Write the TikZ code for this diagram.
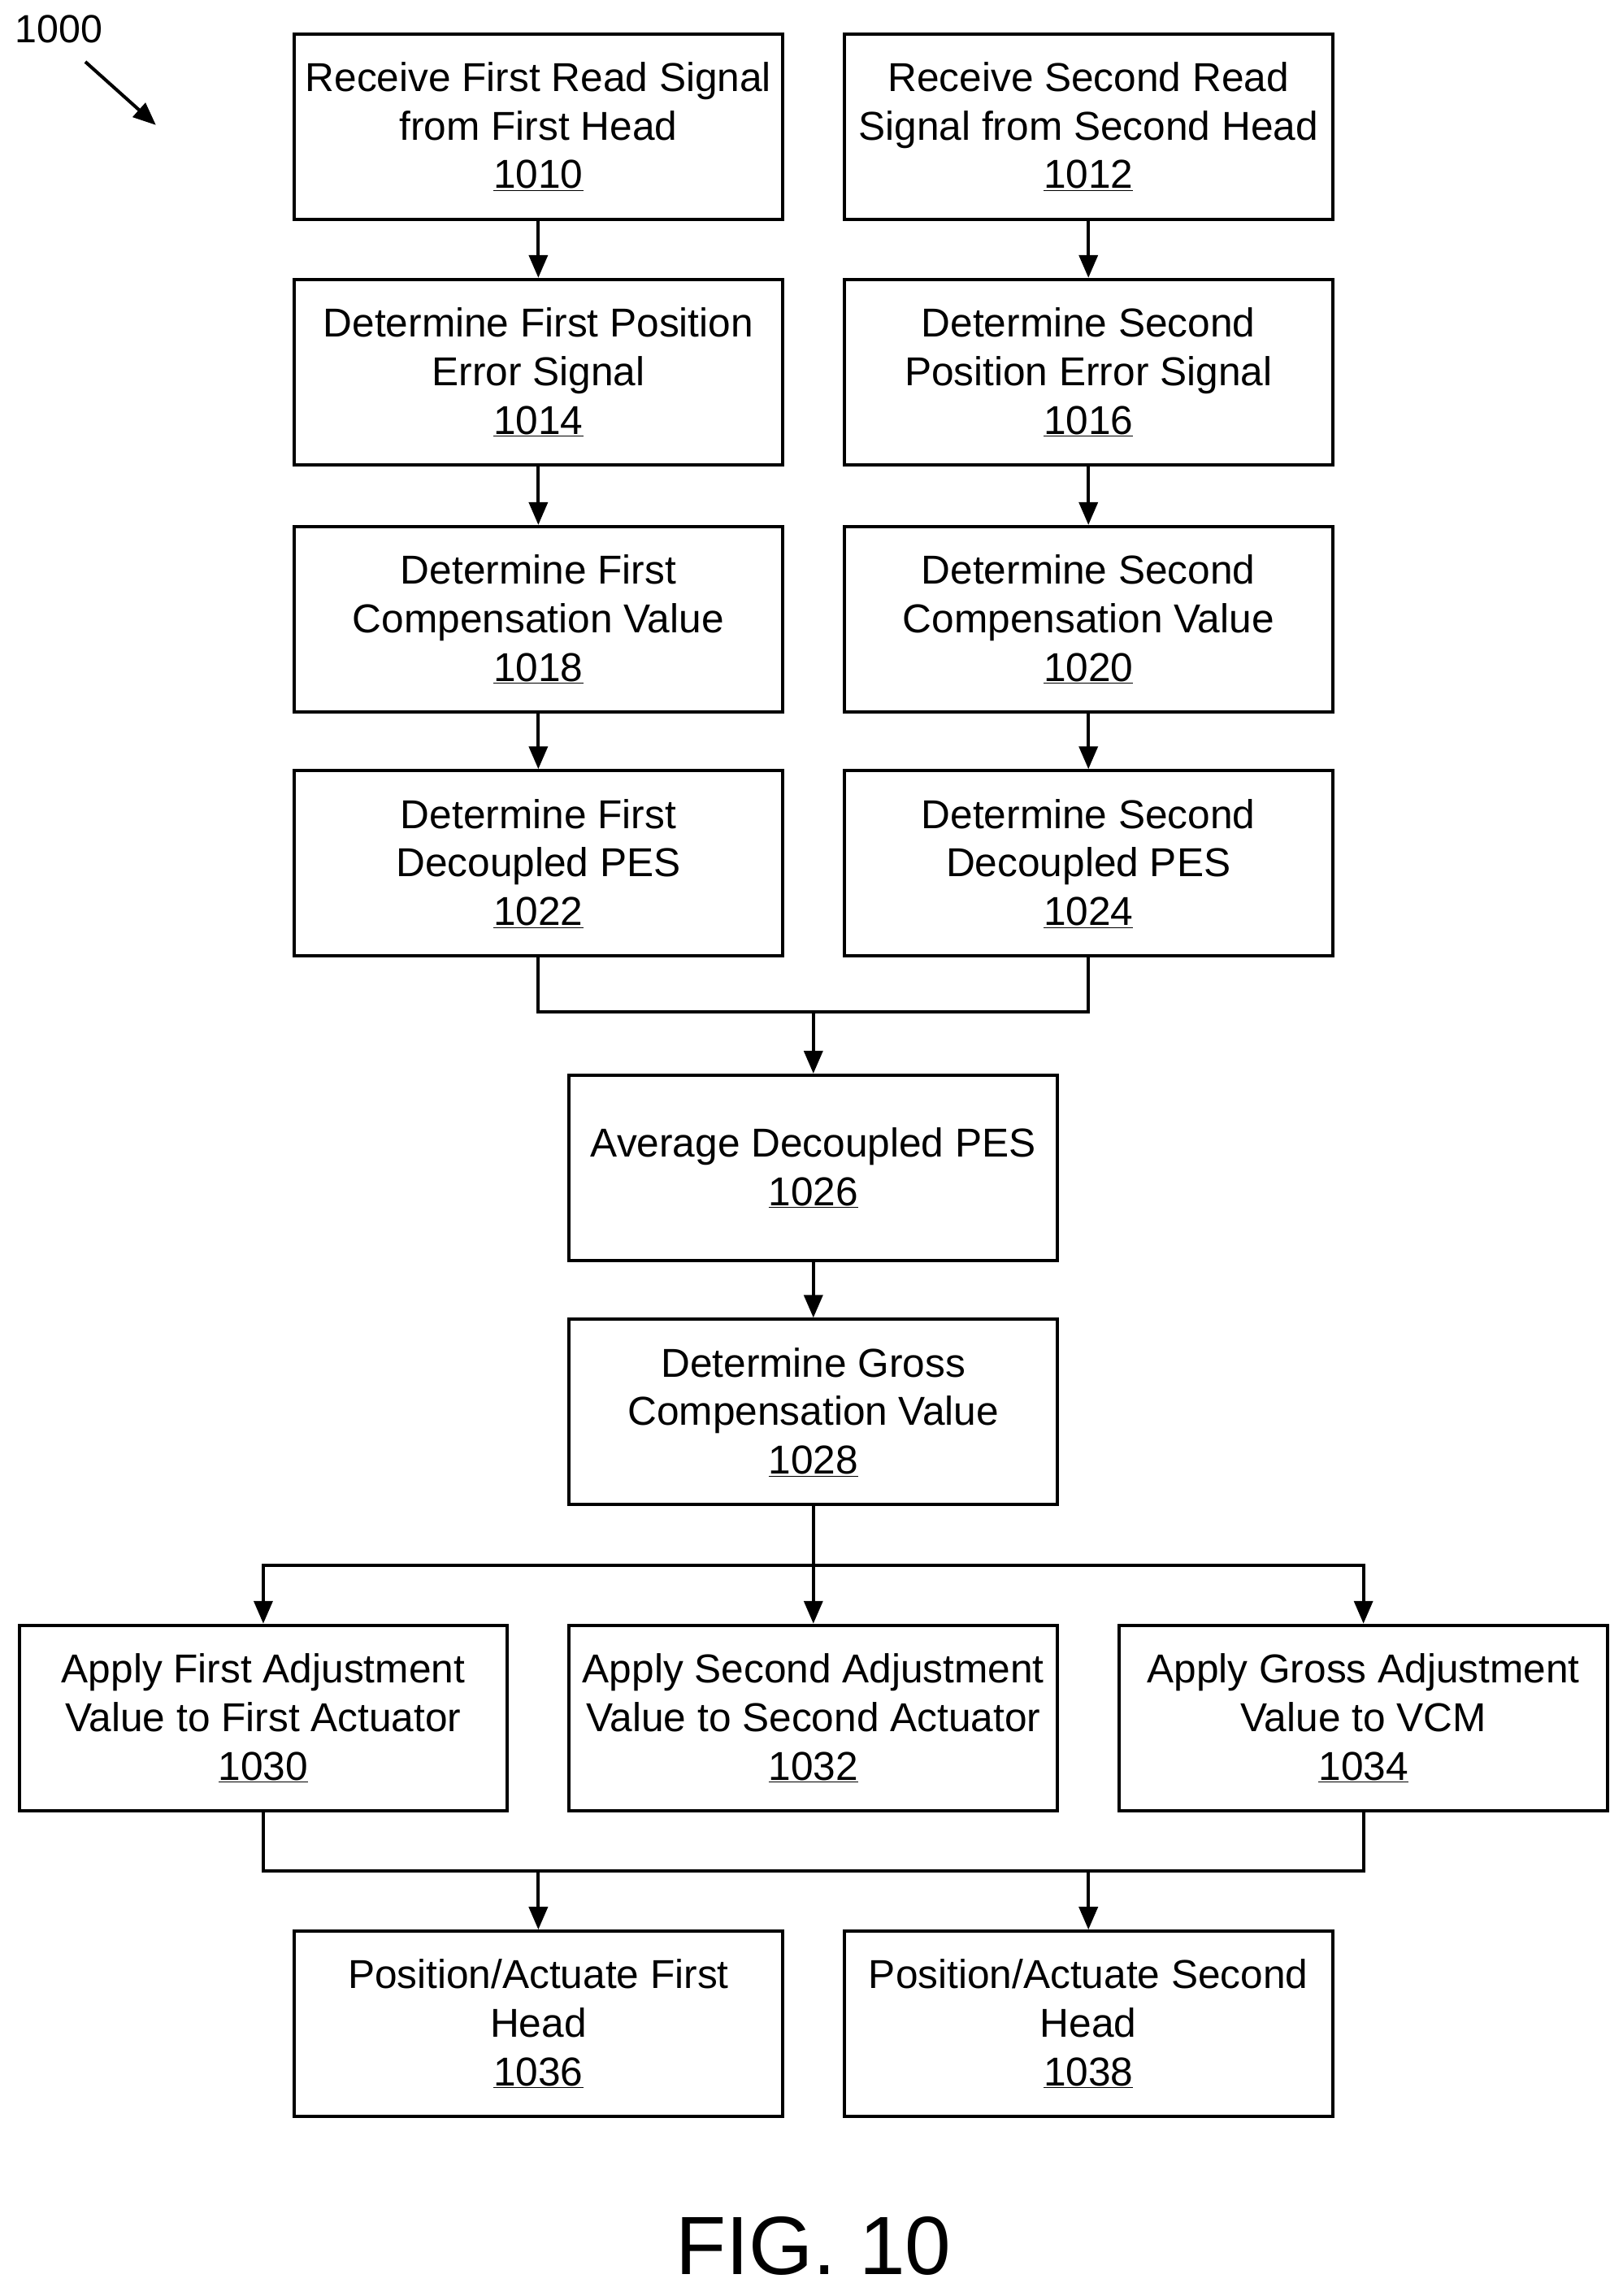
\documentclass[tikz,border=0pt]{standalone}
\usepackage{fontspec}
\setmainfont{Liberation Sans}
\usetikzlibrary{arrows.meta}
\begin{document}
\begin{tikzpicture}[x=0.05cm,y=-0.05cm,
  box/.style={draw,line width=3.2pt,minimum width=16.6cm,minimum height=6.3cm,align=center,inner sep=0pt,font=\fontsize{39}{47}\selectfont},
  arr/.style={line width=3.2pt,-{Triangle[length=22pt,width=18pt]}},
  ln/.style={line width=3.2pt}]
\useasboundingbox (0,0) rectangle (1103,1561);
\node[box] (a) at (366,86) {Receive First Read Signal\\from First Head\\\underline{1010}};
\node[box] (b) at (740,86) {Receive Second Read\\Signal from Second Head\\\underline{1012}};
\node[box] (c) at (366,253) {Determine First Position\\Error Signal\\\underline{1014}};
\node[box] (d) at (740,253) {Determine Second\\Position Error Signal\\\underline{1016}};
\node[box] (e) at (366,421) {Determine First\\Compensation Value\\\underline{1018}};
\node[box] (f) at (740,421) {Determine Second\\Compensation Value\\\underline{1020}};
\node[box] (g) at (366,587) {Determine First\\Decoupled PES\\\underline{1022}};
\node[box] (h) at (740,587) {Determine Second\\Decoupled PES\\\underline{1024}};
\node[box] (i) at (553,794) {Average Decoupled PES\\\underline{1026}};
\node[box] (j) at (553,960) {Determine Gross\\Compensation Value\\\underline{1028}};
\node[box] (k) at (179,1168) {Apply First Adjustment\\Value to First Actuator\\\underline{1030}};
\node[box] (l) at (553,1168) {Apply Second Adjustment\\Value to Second Actuator\\\underline{1032}};
\node[box] (m) at (927,1168) {Apply Gross Adjustment\\Value to VCM\\\underline{1034}};
\node[box] (n) at (366,1376) {Position/Actuate First\\Head\\\underline{1036}};
\node[box] (o) at (740,1376) {Position/Actuate Second\\Head\\\underline{1038}};
\draw[arr] (a) -- (c); \draw[arr] (c) -- (e); \draw[arr] (e) -- (g);
\draw[arr] (b) -- (d); \draw[arr] (d) -- (f); \draw[arr] (f) -- (h);
\coordinate (m1) at (553,688);
\draw[ln] (g.south) |- (m1) -| (h.south);
\draw[arr] (m1) -- (i.north);
\draw[arr] (i) -- (j);
\coordinate (m2) at (553,1064);
\draw[ln] (j.south) -- (m2);
\draw[arr] (m2) -| (k.north);
\draw[arr] (m2) -| (m.north);
\draw[arr] (m2) -- (l.north);
\coordinate (m3) at (366,1272);
\coordinate (m4) at (740,1272);
\draw[ln] (k.south) |- (m4) -| (m.south);
\draw[arr] (m3) -- (n.north);
\draw[arr] (m4) -- (o.north);
\node[font=\fontsize{38}{44}\selectfont] (lbl) at (40,20) {1000};
\coordinate (p1) at (58,42);
\coordinate (p2) at (106,85);
\draw[arr] (p1) -- (p2);
\node[font=\fontsize{80}{90}\selectfont] (fig) at (553,1527) {FIG. 10};
\end{tikzpicture}
\end{document}
